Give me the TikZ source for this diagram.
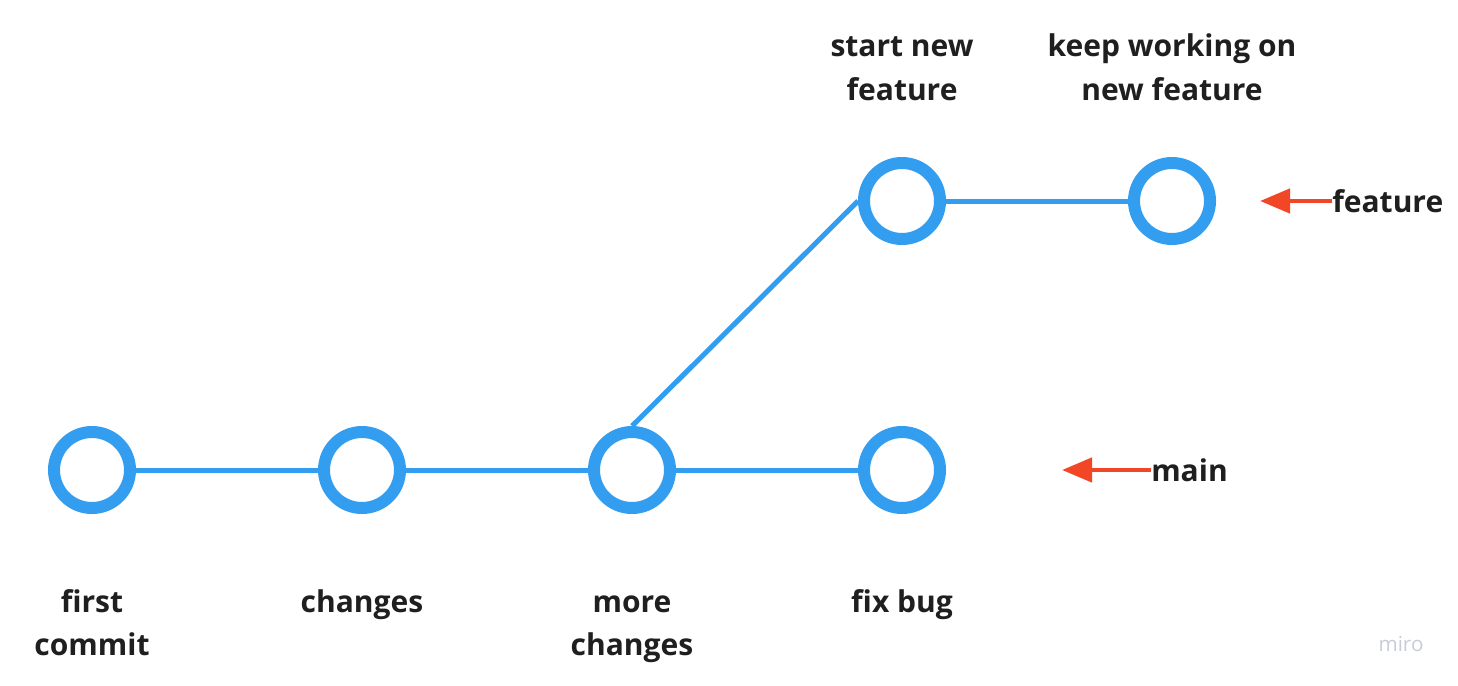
\documentclass[tikz,border=0pt]{standalone}
\usepackage{fontspec}
\setmainfont{Open Sans}
\usetikzlibrary{arrows.meta}
\definecolor{gitblue}{RGB}{51,157,240}
\definecolor{gitred}{RGB}{242,71,38}
\definecolor{wmgray}{RGB}{200,203,218}
\begin{document}
\begin{tikzpicture}[x=0.75pt,y=-0.75pt,
  commit/.style={circle,draw=gitblue,line width=9pt,minimum size=57pt,inner sep=0pt},
  branchline/.style={gitblue,line width=3.75pt},
  lbl/.style={font=\fontsize{22.5}{32.25}\selectfont\bfseries,text=black!88,align=center,inner sep=0pt,anchor=base},
  ptr/.style={gitred,line width=3.4pt,-{Triangle[length=22.5pt,width=18pt]}},
  reflbl/.style={font=\fontsize{22.5}{32.25}\selectfont\bfseries,text=black!88,inner sep=0pt,anchor=west}]
\useasboundingbox[fill=white] (0,0) rectangle (1458,685);
% commits
\node[commit] (c1) at (92,470) {};
\node[commit] (c2) at (362,470) {};
\node[commit] (c3) at (632,470) {};
\node[commit] (c4) at (902,470) {};
\node[commit] (f1) at (902,201) {};
\node[commit] (f2) at (1172,201) {};
% branch lines
\draw[branchline] (c1) -- (c2);
\draw[branchline] (c2) -- (c3);
\draw[branchline] (c3) -- (c4);
\draw[branchline] (c3.north) -- (f1.west);
\draw[branchline] (f1) -- (f2);
% labels (base anchor = baseline of last line)
\node[lbl] (t1) at (92,655) {first\\commit};
\node[lbl] (t2) at (362,612) {changes};
\node[lbl] (t3) at (632,655) {more\\changes};
\node[lbl] (t4) at (902,612) {fix bug};
\node[lbl] (t5) at (902,100) {start new\\feature};
\node[lbl] (t6) at (1172,100) {keep working on\\new feature};
% branch pointers
\node[reflbl] (featlbl) at (1332,201) {feature};
\coordinate (feattip) at (1260,201);
\draw[ptr] (featlbl.west) -- (feattip);
\node[reflbl] (mainlbl) at (1151,470) {main};
\coordinate (maintip) at (1062,470);
\draw[ptr] (mainlbl.west) -- (maintip);
% watermark
\node[font=\fontsize{15.5}{18}\selectfont,text=wmgray,inner sep=0pt] (wm) at (1401,644) {miro};
\end{tikzpicture}
\end{document}
